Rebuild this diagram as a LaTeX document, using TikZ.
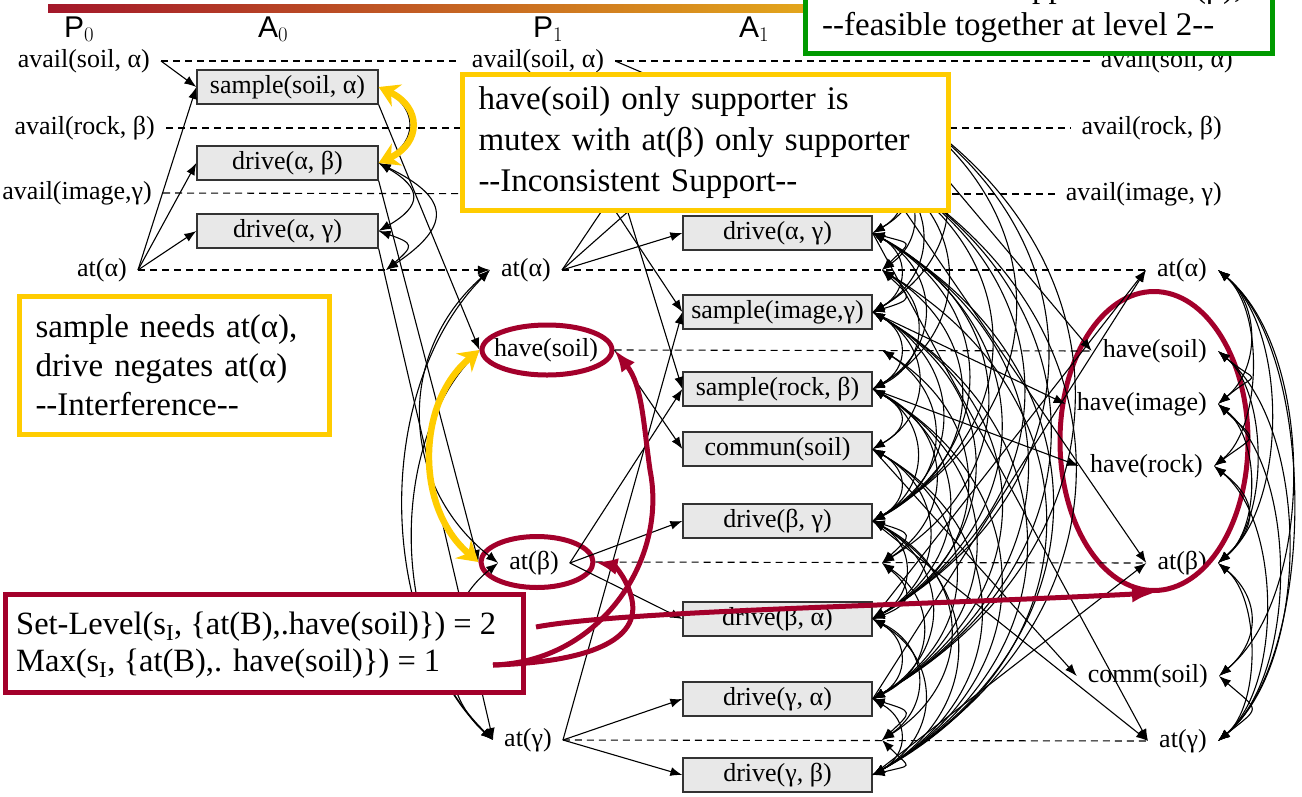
\documentclass[tikz,border=0pt]{standalone}
\usepackage{fontspec}
\setmainfont{Liberation Serif}
\newfontfamily\sansfam{Liberation Sans}
\usetikzlibrary{arrows.meta,shapes.geometric}

\definecolor{noteyellow}{HTML}{FFCC00}
\definecolor{notered}{HTML}{A3002B}
\definecolor{notegreen}{HTML}{009A00}
\definecolor{actgray}{HTML}{E8E8E8}
\definecolor{barred}{HTML}{A3172A}
\definecolor{bargold}{HTML}{E3A61C}

\newcommand\lblsize{\fontsize{26}{30}\selectfont}
\newcommand\hyhy{-\kern0pt-}

\tikzset{
  fact/.style={font=\lblsize, inner xsep=11pt, inner ysep=2pt},
  act/.style={draw=black!80, fill=actgray, line width=1.3pt, minimum height=34pt,
              inner sep=0pt, font=\lblsize},
  actzero/.style={act, minimum width=181pt},
  actone/.style={act, minimum width=189pt},
  noop/.style={line width=1.1pt, dash pattern=on 7pt off 5pt},
  cause/.style={line width=1.1pt, -{Latex[length=12pt,width=9pt]}},
  mx/.style={line width=1.1pt, {Latex[length=12pt,width=9pt]}-{Latex[length=12pt,width=9pt]}},
  note/.style={fill=white, line width=5pt, align=left, anchor=north west, inner ysep=0pt},
  lvl/.style={font=\sansfam\fontsize{30}{30}\selectfont, anchor=base west, inner sep=0pt},
  hiyel/.style={noteyellow, line width=6.5pt,
                {Stealth[length=20pt,width=24pt]}-{Stealth[length=20pt,width=24pt]}},
  hired/.style={notered, line width=5pt, -{Latex[length=22pt,width=17pt]}},
  ring/.style={draw=notered, line width=5pt, ellipse, inner sep=0pt},
}

\begin{document}
\begin{tikzpicture}[x=1pt,y=1pt]
\useasboundingbox (0,0) rectangle (1302,-796);
\clip (0,0) rectangle (1302,-796);

% level header
\shade[left color=barred, right color=bargold] (48,-4) rectangle (806,-12);
\node[lvl] (lvp0) at (64,-37) {P$_0$};
\node[lvl] (lva0) at (258,-37) {A$_0$};
\node[lvl] (lvp1) at (533,-37) {P$_1$};
\node[lvl] (lva1) at (739,-37) {A$_1$};

% proposition level 0
\node[fact, anchor=east] (p0a) at (161,-61) {avail(soil, α)};
\node[fact, anchor=east] (p0b) at (166,-128) {avail(rock, β)};
\node[fact, anchor=east] (p0c) at (163,-193) {avail(image,γ)};
\node[fact, anchor=east] (p0d) at (138,-270) {at(α)};

% action level 0
\node[actzero] (a0a) at (287.5,-87) {sample(soil, α)};
\node[actzero] (a0b) at (287.5,-163) {drive(α, β)};
\node[actzero] (a0c) at (287.5,-231) {drive(α, γ)};
\coordinate (n0d) at (386,-270);

% proposition level 1
\node[fact] (p1a) at (538,-61) {avail(soil, α)};
\coordinate (p1b) at (602,-128);
\coordinate (p1c) at (604,-194);
\node[fact] (p1d) at (526,-270) {at(α)};
\node[fact] (p1e) at (546,-350) {have(soil)};
\node[fact] (p1f) at (534,-563) {at(β)};
\node[fact] (p1g) at (528,-740) {at(γ)};
\node[ring, minimum width=130pt, minimum height=50pt] (ovsoil) at (547,-350) {};
\node[ring, minimum width=112pt, minimum height=51pt] (ovbeta) at (537,-562) {};

% action level 1
\coordinate (a1aw) at (683,-90);  \coordinate (a1ae) at (872,-90);
\coordinate (a1bw) at (683,-163); \coordinate (a1be) at (872,-163);
\node[actone] (a1c) at (777.5,-233) {drive(α, γ)};
\node[actone] (a1d) at (777.5,-312) {sample(image,γ)};
\node[actone] (a1e) at (777.5,-389) {sample(rock, β)};
\node[actone] (a1f) at (777.5,-449) {commun(soil)};
\node[actone] (a1g) at (777.5,-521) {drive(β, γ)};
\node[actone] (a1h) at (777.5,-619) {drive(β, α)};
\node[actone] (a1i) at (777.5,-699) {drive(γ, α)};
\node[actone] (a1j) at (777.5,-775) {drive(γ, β)};
\coordinate (n1d) at (882,-270);
\coordinate (n1e) at (882,-350);
\coordinate (n1f) at (882,-563);
\coordinate (n1g) at (882,-740);

% proposition level 2
\node[fact, anchor=east] (p2a) at (1244,-61) {avail(soil, α)};
\node[fact, anchor=east] (p2b) at (1233,-128) {avail(rock, β)};
\node[fact, anchor=east] (p2c) at (1233,-194) {avail(image, γ)};
\node[fact, anchor=east] (p2d) at (1218,-270) {at(α)};
\node[fact, anchor=east] (p2e) at (1218,-351) {have(soil)};
\node[fact, anchor=east] (p2f) at (1218,-404) {have(image)};
\node[fact, anchor=east] (p2g) at (1214,-466) {have(rock)};
\node[fact, anchor=east] (p2h) at (1218,-563) {at(β)};
\node[fact, anchor=east] (p2i) at (1219,-676) {comm(soil)};
\node[fact, anchor=east] (p2j) at (1218,-741) {at(γ)};
\node[ring, minimum width=188pt, minimum height=299pt] (ovgoal) at (1154,-441) {};

% persistence (noop) links
\draw[noop] (p0a.east) -- (p1a.west);
\draw[noop] (p0b.east) -- (p1b);
\draw[noop] (p0c.east) -- (p1c);
\draw[noop, -{Latex[length=12pt,width=9pt]}] (p0d.east) -- (p1d.west);
\draw[noop] (p1a.east) -- (p2a.west);
\draw[noop] (p1b) -- (p2b.west);
\draw[noop] (p1c) -- (p2c.west);
\draw[noop] (p1d.east) -- (p2d.west);
\draw[noop] (ovsoil.east) -- (p2e.west);
\draw[noop] (ovbeta.east) -- (p2h.west);
\draw[noop] (p1g.east) -- (p2j.west);

% preconditions and effects, level 0
\draw[cause] (p0a.east) -- (a0a.west);
\draw[cause] (p0d.east) -- (a0a.west);
\draw[cause] (p0d.east) -- (a0b.west);
\draw[cause] (p0d.east) -- (a0c.west);
\draw[cause] (a0a.south east) -- (ovsoil.west);
\draw[cause] (a0b.south east) -- (ovbeta.west);
\draw[cause] (a0c.south east) -- (p1g.west);

% preconditions, level 1
\draw[cause] (p1a.east) -- (a1aw);
\draw[cause] (p1d.east) -- (a1aw);
\draw[cause] (p1d.east) -- (a1bw);
\draw[cause] (p1d.east) -- (a1c.west);
\draw[cause] (p1b) -- (a1e.west);
\draw[cause] (p1c) -- (a1d.west);
\draw[cause] (p1g.east) -- (a1d.west);
\draw[cause] (p1g.east) -- (a1i.west);
\draw[cause] (p1g.east) -- (a1j.west);
\draw[cause] (p1f.east) -- (a1e.west);
\draw[cause] (p1f.east) -- (a1g.west);
\draw[cause] (p1f.east) -- (a1h.west);
\draw[cause] (ovsoil.east) -- (a1f.west);

% effects, level 1
\draw[cause] (a1ae) -- (p2e.west);
\draw[cause] (a1be) -- (p2h.west);
\draw[cause] (a1c.east) -- (p2j.west);
\draw[cause] (a1d.east) -- (p2f.west);
\draw[cause] (a1e.east) -- (p2g.west);
\draw[cause] (a1f.east) -- (p2i.west);
\draw[cause] (a1g.east) -- (p2j.west);
\draw[cause] (a1h.east) -- (p2d.west);
\draw[cause] (a1i.east) -- (p2d.west);
\draw[cause] (a1j.east) -- (p2h.west);

% mutex arcs, action level 0
\draw[mx] (a0a.east) to[bend left=60, looseness=1.5] (a0b.east);
\draw[mx] (a0b.east) to[bend left=60, looseness=1.9] (a0c.east);
\draw[mx] (a0b.east) to[bend left=60, looseness=1.9] (n0d);
\draw[mx] (a0c.east) to[bend left=60, looseness=2.4] (n0d);

% mutex arcs, proposition level 1
\draw[mx] (p1d.west) to[bend right=50, looseness=1.1] (p1f.west);
\draw[mx] (p1d.west) to[bend right=45, looseness=0.9] (p1g.west);
\draw[mx] (p1f.west) to[bend right=50, looseness=1.1] (p1g.west);
\draw[mx] (ovsoil.west) to[bend right=45, looseness=0.9] (p1g.west);

% mutex arcs, action level 1
\foreach \u/\v in {
  a1be/a1c.east, a1be/a1g.east, a1be/a1h.east, a1be/a1i.east, a1be/a1j.east,
  a1c.east/a1g.east, a1c.east/a1h.east, a1c.east/a1i.east, a1c.east/a1j.east,
  a1g.east/a1h.east, a1g.east/a1i.east, a1g.east/a1j.east,
  a1h.east/a1i.east, a1h.east/a1j.east, a1i.east/a1j.east,
  a1ae/a1be, a1ae/a1c.east, a1ae/a1g.east, a1ae/a1h.east, a1ae/a1i.east,
  a1ae/a1d.east, a1be/a1d.east, a1c.east/a1d.east,
  a1d.east/a1g.east, a1d.east/a1h.east, a1d.east/a1i.east, a1d.east/a1j.east,
  a1be/a1e.east, a1c.east/a1e.east, a1d.east/a1e.east,
  a1e.east/a1g.east, a1e.east/a1h.east, a1e.east/a1i.east, a1e.east/a1j.east,
  a1d.east/a1f.east, a1e.east/a1f.east,
  a1f.east/a1g.east, a1f.east/a1h.east, a1f.east/a1i.east, a1f.east/a1j.east,
  a1be/n1d, a1c.east/n1d, n1d/a1d.east, n1d/a1e.east, n1d/a1g.east, n1d/a1j.east,
  a1c.east/n1f, a1e.east/n1f, a1g.east/n1f, n1f/a1h.east, n1f/a1i.east,
  a1g.east/n1g, a1h.east/n1g, a1i.east/n1g, n1g/a1j.east,
  n1e/a1g.east, n1e/a1h.east}
  \draw[mx] (\u) to[bend left=60, looseness=1.3, min distance=42pt] (\v);

% mutex arcs, proposition level 2
\foreach \u/\v in {
  p2d/p2f, p2d/p2g, p2d/p2h, p2d/p2i, p2d/p2j,
  p2e/p2f, p2e/p2h, p2e/p2j,
  p2f/p2g, p2f/p2h, p2f/p2j,
  p2g/p2h, p2g/p2j,
  p2h/p2i, p2h/p2j, p2i/p2j}
  \draw[mx] (\u.east) to[bend left=50, looseness=0.8, min distance=55pt, max distance=130pt] (\v.east);

% highlighted mutexes
\draw[hiyel] (a0a.east) to[bend left=65, looseness=1.6] (a0b.east);
\draw[hiyel] (ovsoil.west) to[bend right=50] (ovbeta.west);

% explanation boxes
\node[note, draw=noteyellow, minimum width=486pt, minimum height=136pt, text width=454pt,
      inner xsep=16pt, font=\fontsize{33}{41}\selectfont] (supnote) at (460,-72)
  {have(soil) only supporter is\\mutex with at(β) only supporter\\\hyhy Inconsistent Support\hyhy};
\node[note, draw=noteyellow, minimum width=310pt, minimum height=138pt, text width=278pt,
      inner xsep=16pt, font=\fontsize{33}{39}\selectfont] (intnote) at (17,-294)
  {sample needs at(α),\\drive negates at(α)\\\hyhy Interference\hyhy};
\node[note, draw=notered, minimum width=518pt, minimum height=98pt] (setnote) at (2.5,-592) {};
\node[font=\fontsize{32.5}{37}\selectfont, align=left, anchor=west, inner sep=0pt] (settext) at (16,-645)
  {Set-Level(s\textsubscript{I}, \{at(B),.have(soil)\}) = 2\\Max(s\textsubscript{I}, \{at(B),. have(soil)\}) = 1};
\node[draw=notegreen, fill=white, line width=5pt, minimum width=467pt, minimum height=140pt,
      anchor=south west, inner sep=0pt] (feasnote) at (803,-56) {};
\node[font=\fontsize{33}{41}\selectfont, anchor=west, inner sep=0pt] (feasone) at (822,11)
  {mutex with a supporter of at(β),};
\node[font=\fontsize{33}{41}\selectfont, anchor=west, inner sep=0pt] (feastwo) at (822,-27)
  {\hyhy feasible together at level 2\hyhy};

% pointers from the heuristic values
\coordinate (lvlend) at (536,-627);
\coordinate (maxend) at (493,-665);
\draw[hired] (lvlend) .. controls (620,-611) and (900,-606) .. (ovgoal.south);
\draw[hired] (maxend) .. controls (600,-662) and (668,-560) .. (650,-470)
             .. controls (643,-420) and (642,-385) .. (ovsoil.east);
\draw[hired] (maxend) .. controls (590,-662) and (640,-640) .. (632,-600)
             .. controls (628,-580) and (615,-566) .. (ovbeta.east);
\end{tikzpicture}
\end{document}
